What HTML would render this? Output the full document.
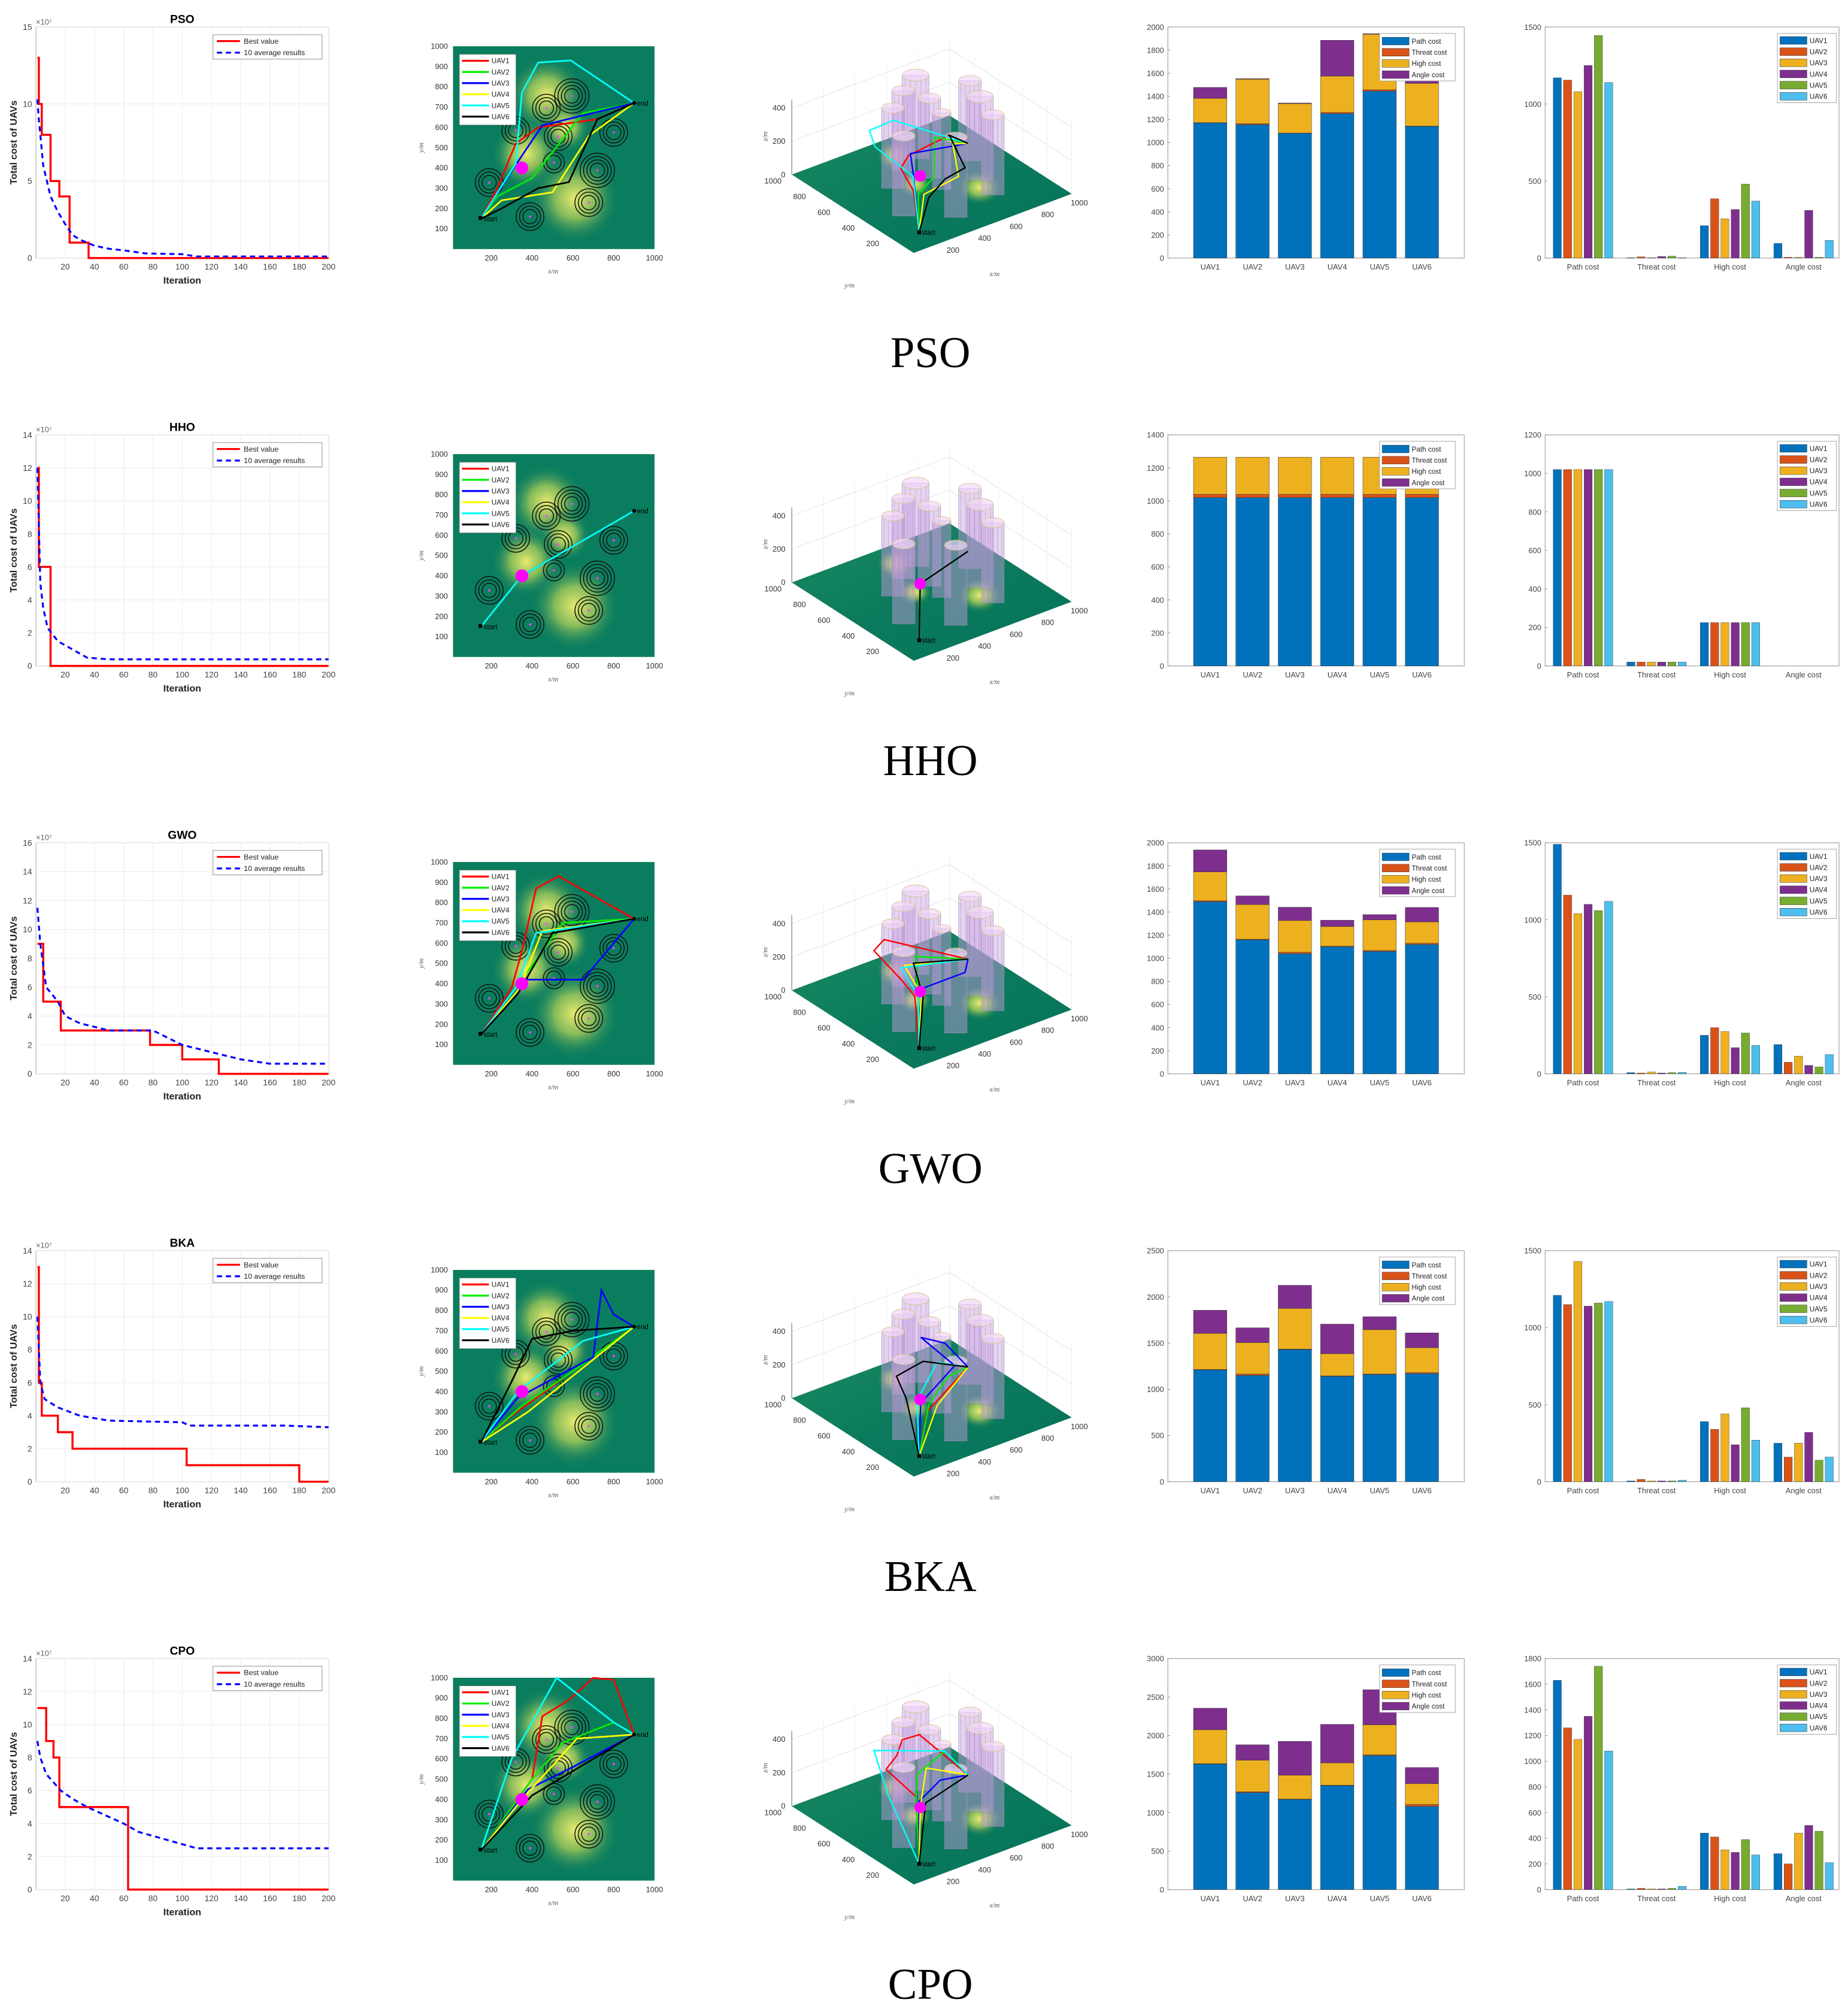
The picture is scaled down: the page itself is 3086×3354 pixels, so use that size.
<!DOCTYPE html>
<html><head><meta charset="utf-8"><title>UAV path planning comparison</title>
<style>
html,body{margin:0;padding:0;background:#fff;}
svg{display:block;}
</style></head>
<body>
<svg id="fig" xmlns="http://www.w3.org/2000/svg" width="3086" height="3354" viewBox="0 0 1440 1565">
<defs>
<radialGradient id="blob" cx="50%" cy="50%" r="50%">
<stop offset="0%" stop-color="#e8ec70"/><stop offset="45%" stop-color="#9cc65a" stop-opacity="0.85"/><stop offset="100%" stop-color="#0a7d5e" stop-opacity="0"/>
</radialGradient>
<linearGradient id="surf" x1="0" y1="0" x2="1" y2="1">
<stop offset="0%" stop-color="#1a8a62"/><stop offset="50%" stop-color="#0b7a5c"/><stop offset="100%" stop-color="#06735a"/>
</linearGradient>
</defs>
</svg>
<script>
// ---------- data ----------
const algos = ['PSO','HHO','GWO','BKA','CPO'];
const convYMax = [15,14,16,14,14];
const convYStep = [5,2,2,2,2];
const bestIters = [[1,2,4,10,16,23,36,200],[1,2,10,200],[1,5,17,78,100,125,200],[1,2,4,15,25,103,180,200],[1,7,12,16,63,200]];
const bestVals  = [[13,10,8,5,4,1,0,0],[12,6,0,0],[9,5,3,2,1,0,0],[13,6,4,3,2,1,0,0],[11,9,8,5,0,0]];
const avgIters = [[1,2,3,5,10,15,20,25,30,40,50,60,75,100,110,200],[1,3,5,8,15,25,35,50,200],[1,3,7,15,20,30,50,80,100,120,140,160,200],[1,3,6,15,30,50,100,105,170,200],[1,3,7,17,25,35,60,70,90,110,200]];
const avgVals  = [[10.3,9,8,6,4,3,2.2,1.5,1.2,0.8,0.6,0.5,0.3,0.25,0.1,0.1],[12,5,3.5,2.3,1.5,1,0.5,0.4,0.4],[11.5,9,6,5,4,3.5,3,3,2,1.5,1,0.7,0.7],[10,6,5,4.5,4,3.7,3.6,3.4,3.4,3.3],[9,8,7,6,5.5,5,4,3.5,3,2.5,2.5]];
const uavNames = ['UAV1','UAV2','UAV3','UAV4','UAV5','UAV6'];
const costNames = ['Path cost','Threat cost','High cost','Angle cost'];
const pathCost   = [[1170,1155,1080,1250,1445,1140],[1020,1020,1020,1020,1020,1020],[1490,1160,1040,1100,1060,1120],[1210,1150,1430,1140,1160,1170],[1630,1260,1170,1350,1740,1080]];
const threatCost = [[2,8,2,10,12,2],[20,20,20,20,20,20],[8,5,12,5,8,10],[5,15,5,5,5,10],[5,10,5,5,10,25]];
const highCost   = [[210,385,255,315,480,370],[225,225,225,225,225,225],[250,300,275,170,265,185],[390,340,440,240,480,270],[440,410,310,290,390,270]];
const angleCost  = [[95,5,5,310,5,115],[0,0,0,0,0,0],[190,75,115,55,45,125],[250,160,250,320,140,160],[280,200,440,500,455,210]];
const stackMax = [2000,1400,2000,2500,3000];
const stackStep = [200,200,200,500,500];
const groupMax = [1500,1200,1500,1500,1800];
const groupStep = [500,200,500,500,200];
const threatX = [595,470,320,528,800,507,720,190,678,390];
const threatY = [755,695,585,555,575,427,388,328,229,160];
const threatRings = [4,3,3,3,3,2,4,3,3,3];
const uavPaths = [
 [[[150,150],[230,300],[320,520],[430,600],[720,640],[900,720]],[[150,150],[230,260],[400,350],[650,670],[900,720]],[[150,150],[330,430],[450,610],[900,720]],[[150,150],[250,240],[500,280],[680,560],[900,720]],[[150,150],[320,420],[350,770],[430,920],[590,930],[900,720]],[[150,150],[250,200],[430,300],[580,330],[720,640],[900,720]]],
 [[[150,150],[350,400],[900,720]],[[150,150],[350,400],[900,720]],[[150,150],[350,400],[900,720]],[[150,150],[350,400],[900,720]],[[150,150],[350,400],[900,720]],[[150,150],[350,400],[900,720]]],
 [[[150,150],[300,380],[350,560],[420,870],[530,930],[900,720]],[[150,150],[350,420],[550,700],[900,720]],[[150,150],[370,420],[650,420],[900,720]],[[150,150],[340,380],[450,660],[900,720]],[[150,150],[320,380],[420,650],[900,720]],[[150,150],[330,350],[500,650],[900,720]]],
 [[[150,150],[300,280],[900,720]],[[150,150],[350,330],[600,500],[900,720]],[[150,150],[330,370],[700,570],[740,900],[800,780],[900,720]],[[150,150],[380,300],[900,720]],[[150,150],[330,400],[650,650],[900,720]],[[150,150],[300,450],[400,660],[600,700],[900,720]]],
 [[[150,150],[400,500],[450,810],[580,890],[700,1000],[800,990],[900,720]],[[150,150],[400,500],[550,680],[800,780],[900,720]],[[150,150],[380,450],[600,560],[900,720]],[[150,150],[350,400],[620,700],[900,720]],[[150,150],[300,600],[520,1000],[800,780],[900,720]],[[150,150],[400,420],[900,720]]]
];
const colStack = ['#0072BD','#D95319','#EDB120','#7E2F8E'];
const colUav = ['#0072BD','#D95319','#EDB120','#7E2F8E','#77AC30','#4DBEEE'];
const colPath = ['#ff0000','#00ee00','#0000ff','#ffff00','#00ffff','#000000'];

const NS='http://www.w3.org/2000/svg';
const svg=document.getElementById('fig');
const SANS='font-family:"Liberation Sans",Arial,sans-serif';
const SERIF='font-family:"Liberation Serif","Times New Roman",serif';
function mk(tag,attrs,parent,txt){const e=document.createElementNS(NS,tag);for(const k in attrs)e.setAttribute(k,attrs[k]);if(tag==='text'&&!attrs.style)e.setAttribute('style',SANS);if(txt!==undefined)e.textContent=txt;(parent||svg).appendChild(e);return e;}
const ROW=317.75;

algos.forEach((alg,r)=>{
 const oy=r*ROW;
 const row=mk('g',{});
 
 

 // ===== convergence =====
 const cg=mk('g',{},row);
 
 
 const L=28,R=256,T=21+oy,B=201+oy;
 const sx=v=>L+(v/200)*(R-L), sy=v=>B-(v/convYMax[r])*(B-T);
 mk('rect',{x:L,y:T,width:R-L,height:B-T,fill:'#fff',stroke:'#bbb','stroke-width':0.6},cg);
 for(let v=20;v<=200;v+=20){mk('line',{x1:sx(v),x2:sx(v),y1:T,y2:B,stroke:'#ececec','stroke-width':0.5},cg);
  const t=mk('text',{x:sx(v),y:B+9,'font-size':6.5,'text-anchor':'middle',fill:'#444'},cg,String(v));
  
  }
 for(let v=0;v<=convYMax[r];v+=convYStep[r]){mk('line',{x1:L,x2:R,y1:sy(v),y2:sy(v),stroke:'#ececec','stroke-width':0.5},cg);
  const t=mk('text',{x:L-3,y:sy(v)+2.3,'font-size':6.5,'text-anchor':'end',fill:'#444'},cg,String(v));
  
  }
 mk('text',{x:L,y:T-2,'font-size':6,fill:'#666'},cg,'×10⁷');
 const ttl=mk('text',{x:142,y:T-3,'font-size':9,'font-weight':'bold','text-anchor':'middle',fill:'#000'},cg,alg);
 
 
 const xl=mk('text',{x:142,y:B+20,'font-size':7.5,'font-weight':'bold','text-anchor':'middle',fill:'#222'},cg,'Iteration');
 
 
 const yl=mk('text',{x:13,y:(T+B)/2,'font-size':7.5,'font-weight':'bold','text-anchor':'middle',fill:'#222',transform:`rotate(-90 13 ${(T+B)/2})`},cg,'Total cost of UAVs');
 
 
 let d='';const bi=bestIters[r],bv=bestVals[r];
 for(let i=0;i<bi.length;i++){const x=sx(bi[i]);if(i===0)d+=`M${x},${sy(bv[i])}`;else d+=`L${x},${sy(bv[i-1])}L${x},${sy(bv[i])}`;}
 const bl=mk('path',{d:d,fill:'none',stroke:'#ff0000','stroke-width':1.6},cg);
 
 
 const ap=avgIters[r].map((it,i)=>`${sx(it)},${sy(avgVals[r][i])}`).join(' ');
 const al=mk('polyline',{points:ap,fill:'none',stroke:'#0000ff','stroke-width':1.5,'stroke-dasharray':'4,3'},cg);
 
 
 const lg=mk('g',{},cg);
 
 
 mk('rect',{x:166,y:T+6,width:85,height:19,fill:'#fff',stroke:'#999','stroke-width':0.5},lg);
 mk('line',{x1:169,x2:187,y1:T+11,y2:T+11,stroke:'#f00','stroke-width':1.5},lg);
 mk('line',{x1:169,x2:187,y1:T+20,y2:T+20,stroke:'#00f','stroke-width':1.5,'stroke-dasharray':'4,3'},lg);
 mk('text',{x:190,y:T+13,'font-size':5.8,fill:'#222'},lg,'Best value');
 mk('text',{x:190,y:T+22,'font-size':5.8,fill:'#222'},lg,'10 average results');

 // ===== 2D map =====
 const mg=mk('g',{},row);
 
 
 const mx=v=>351+v*0.159, my=v=>oy+194-v*0.158;
 mk('rect',{x:mx(0)+2,y:my(1000),width:mx(1000)-mx(0)-2,height:my(0)-my(1000),fill:'#0a7d5e'},mg);
 [[470,760,60],[370,470,55],[610,250,70],[560,600,40]].forEach(b=>{
  mk('ellipse',{cx:mx(b[0]),cy:my(b[1]),rx:b[2]*0.5,ry:b[2]*0.5,fill:'url(#blob)'},mg);});
 threatX.forEach((tx,i)=>{for(let k=1;k<=threatRings[i];k++)mk('circle',{cx:mx(tx),cy:my(threatY[i]),r:3+k*2.6,fill:'none',stroke:'#111','stroke-width':0.7},mg);
  mk('circle',{cx:mx(tx),cy:my(threatY[i]),r:0.9,fill:'#ff40ff'},mg);});
 uavPaths[r].forEach((p,u)=>{const pl=mk('polyline',{points:p.map(q=>mx(q[0])+','+my(q[1])).join(' '),fill:'none',stroke:colPath[u],'stroke-width':1.3},mg);
  
  });
 if(r===1){mk('polyline',{points:uavPaths[1][4].map(q=>mx(q[0])+','+my(q[1])).join(' '),fill:'none',stroke:'#00ffff','stroke-width':1.3},mg);}
 mk('circle',{cx:mx(350),cy:my(400),r:5,fill:'#ff00ff'},mg);
 mk('rect',{x:mx(150)-2,y:my(150)-2,width:3,height:3,fill:'#000'},mg);
 mk('text',{x:mx(150)+2,y:my(150)+2,'font-size':5.5,fill:'#000'},mg,'start');
 mk('circle',{cx:mx(900),cy:my(720),r:1.5,fill:'#000'},mg);
 mk('text',{x:mx(900)+2,y:my(720)+2,'font-size':5.5,fill:'#000'},mg,'end');
 for(let v=100;v<=1000;v+=100){mk('text',{x:mx(0)-2,y:my(v)+2,'font-size':6,'text-anchor':'end',fill:'#333'},mg,String(v));}
 for(let v=200;v<=1000;v+=200){mk('text',{x:mx(v),y:my(0)+9,'font-size':6,'text-anchor':'middle',fill:'#333'},mg,String(v));}
 mk('text',{x:431,y:my(0)+19,'font-size':5.5,'font-style':'italic','text-anchor':'middle',fill:'#555',style:SERIF},mg,'x/m');
 mk('text',{x:330,y:my(500),'font-size':5.5,'font-style':'italic','text-anchor':'middle',fill:'#555',style:SERIF,transform:`rotate(-90 330 ${my(500)})`},mg,'y/m');
 const ml=mk('g',{},mg);
 
 
 mk('rect',{x:358,y:my(960),width:44,height:55,fill:'#fff',stroke:'#888','stroke-width':0.4},ml);
 uavNames.forEach((n,u)=>{const yy=my(960)+5+u*8.7;mk('line',{x1:360,x2:381,y1:yy,y2:yy,stroke:colPath[u],'stroke-width':1.5},ml);
  mk('text',{x:383,y:yy+2,'font-size':5.5,fill:'#222'},ml,n);});

 // ===== 3D view =====
 const tg=mk('g',{},row);
 
 
 const F=[712,197+oy],Rr=[835,151+oy],Lc=[617,136+oy];
 const P=(x,y,z)=>[F[0]+x/1000*(Rr[0]-F[0])+y/1000*(Lc[0]-F[0]), F[1]+x/1000*(Rr[1]-F[1])+y/1000*(Lc[1]-F[1])-z*0.13];
 const zt=[0,200,400];
 zt.forEach(z=>{const a=P(0,1000,z),b=P(1000,1000,z),c=P(1000,0,z);
  mk('polyline',{points:`${a} ${b} ${c}`,fill:'none',stroke:'#e4e4e4','stroke-width':0.5},tg);});
 [0,200,400,600,800,1000].forEach(v=>{const a=P(v,1000,0),b=P(v,1000,450);mk('line',{x1:a[0],y1:a[1],x2:b[0],y2:b[1],stroke:'#ececec','stroke-width':0.4},tg);
  const c=P(1000,v,0),d2=P(1000,v,450);mk('line',{x1:c[0],y1:c[1],x2:d2[0],y2:d2[1],stroke:'#ececec','stroke-width':0.4},tg);});
 {const a=P(0,1000,0),b=P(0,1000,450);mk('line',{x1:a[0],y1:a[1],x2:b[0],y2:b[1],stroke:'#888','stroke-width':0.6},tg);}
 const c0=P(0,0,0),c1=P(1000,0,0),c2=P(1000,1000,0),c3=P(0,1000,0);
 mk('polygon',{points:`${c0} ${c1} ${c2} ${c3}`,fill:'url(#surf)'},tg);
 [[470,760,170],[370,470,150],[610,250,200]].forEach(m=>{const c=P(m[0],m[1],60);mk('ellipse',{cx:c[0],cy:c[1],rx:m[2]*0.09,ry:m[2]*0.07,fill:'url(#blob)'},tg);});
 threatX.forEach((tx,i)=>{const base=P(tx,threatY[i],0),top=P(tx,threatY[i],420+threatRings[i]*20);const rw=4+threatRings[i]*1.6;
  mk('rect',{x:base[0]-rw,y:top[1],width:2*rw,height:base[1]-top[1],fill:'#c8a0e0','fill-opacity':0.45,stroke:'#9a88b8','stroke-width':0.3},tg);
  for(let k=-2;k<=2;k++)mk('line',{x1:base[0]+k*rw/2.5,x2:base[0]+k*rw/2.5,y1:top[1],y2:base[1],stroke:'#8a7ab0','stroke-width':0.25,'stroke-opacity':0.7},tg);
  mk('ellipse',{cx:top[0],cy:top[1],rx:rw,ry:rw*0.45,fill:'#f2d8f8','fill-opacity':0.7,stroke:'#d8c080','stroke-width':0.4},tg);});
 uavPaths[r].forEach((p,u)=>{const pts=p.map((q,i)=>{const z=(i===0||i===p.length-1)?0:150;return P(q[0],q[1],z).join(',');}).join(' ');
  const pl=mk('polyline',{points:pts,fill:'none',stroke:colPath[u],'stroke-width':1.1},tg);
  
  });
 {const m=P(350,400,150);mk('circle',{cx:m[0],cy:m[1],r:4.5,fill:'#ff00ff'},tg);
  const s=P(150,150,0);mk('rect',{x:s[0]-1.5,y:s[1]-1.5,width:3,height:3,fill:'#000'},tg);mk('text',{x:s[0]+2,y:s[1]+2,'font-size':5.5,fill:'#000'},tg,'start');}
 zt.forEach(z=>{const a=P(0,1000,z);mk('text',{x:a[0]-5,y:a[1]+2,'font-size':6,'text-anchor':'end',fill:'#333'},tg,String(z));});
 [200,400,600,800,1000].forEach(v=>{const a=P(v,0,0);mk('text',{x:a[0]+6,y:a[1]+9,'font-size':6,'text-anchor':'middle',fill:'#333'},tg,String(v));
  const b=P(0,v,0);mk('text',{x:b[0]-8,y:b[1]+7,'font-size':6,'text-anchor':'end',fill:'#333'},tg,String(v));});
 mk('text',{x:771,y:215+oy,'font-size':5.5,'font-style':'italic',fill:'#555',style:SERIF},tg,'x/m');
 mk('text',{x:658,y:224+oy,'font-size':5.5,'font-style':'italic',fill:'#555',style:SERIF},tg,'y/m');
 mk('text',{x:598,y:110+oy,'font-size':5.5,'font-style':'italic',fill:'#555',style:SERIF,transform:`rotate(-90 598 ${110+oy})`},tg,'z/m');

 // ===== stacked bar =====
 const sg=mk('g',{},row);
 
 
 const SL=910,SR=1141,ST=21+oy,SB=201+oy;
 const ssy=v=>SB-v/stackMax[r]*(SB-ST);
 const ssx=i=>SL+(i+1)/7*(SR-SL);
 mk('rect',{x:SL,y:ST,width:SR-SL,height:SB-ST,fill:'#fff',stroke:'#aaa','stroke-width':0.6},sg);
 for(let v=0;v<=stackMax[r];v+=stackStep[r]){mk('text',{x:SL-3,y:ssy(v)+2.2,'font-size':6,'text-anchor':'end',fill:'#444'},sg,String(v));
  mk('line',{x1:SL,x2:SL+2,y1:ssy(v),y2:ssy(v),stroke:'#888','stroke-width':0.4},sg);}
 const costs=[pathCost[r],threatCost[r],highCost[r],angleCost[r]];
 uavNames.forEach((n,i)=>{let acc=0;const bw=26;
  costs.forEach((c,k)=>{const v=c[i];const rc=mk('rect',{x:ssx(i)-bw/2,y:ssy(acc+v),width:bw,height:ssy(acc)-ssy(acc+v),fill:colStack[k],stroke:'#333','stroke-width':0.25},sg);
   
   acc+=v;});
  mk('text',{x:ssx(i),y:SB+9,'font-size':6,'text-anchor':'middle',fill:'#444'},sg,n);});
 const sl=mk('g',{},sg);
 
 
 mk('rect',{x:1075,y:ST+5,width:59,height:37,fill:'#fff',stroke:'#999','stroke-width':0.4},sl);
 costNames.forEach((n,k)=>{const yy=ST+8+k*8.7;mk('rect',{x:1077,y:yy,width:21,height:6,fill:colStack[k],stroke:'#333','stroke-width':0.25},sl);
  mk('text',{x:1100,y:yy+5,'font-size':5.5,fill:'#222'},sl,n);});

 // ===== grouped bar =====
 const gg=mk('g',{},row);
 
 
 const GL=1204,GR=1433,GT=21+oy,GB=201+oy;
 const gsy=v=>GB-v/groupMax[r]*(GB-GT);
 const gsx=k=>1233.5+k*57.3;
 mk('rect',{x:GL,y:GT,width:GR-GL,height:GB-GT,fill:'#fff',stroke:'#aaa','stroke-width':0.6},gg);
 for(let v=0;v<=groupMax[r];v+=groupStep[r]){mk('text',{x:GL-3,y:gsy(v)+2.2,'font-size':6,'text-anchor':'end',fill:'#444'},gg,String(v));
  mk('line',{x1:GL,x2:GL+2,y1:gsy(v),y2:gsy(v),stroke:'#888','stroke-width':0.4},gg);}
 costs.forEach((c,k)=>{c.forEach((v,i)=>{const bw=6.4;const x=gsx(k)+(i-2.5)*8-bw/2;
   const rc=mk('rect',{x:x,y:gsy(v),width:bw,height:GB-gsy(v),fill:colUav[i],stroke:'#333','stroke-width':0.2},gg);
   
   });
  mk('text',{x:gsx(k),y:GB+9,'font-size':6,'text-anchor':'middle',fill:'#444'},gg,costNames[k]);});
 const gl=mk('g',{},gg);
 
 
 mk('rect',{x:1385,y:GT+5,width:46,height:54,fill:'#fff',stroke:'#999','stroke-width':0.4},gl);
 uavNames.forEach((n,i)=>{const yy=GT+7.5+i*8.7;mk('rect',{x:1387,y:yy,width:21,height:6,fill:colUav[i],stroke:'#333','stroke-width':0.25},gl);
  mk('text',{x:1410,y:yy+5,'font-size':5.5,fill:'#222'},gl,n);});

 // ===== algorithm caption =====
 const cap=mk('text',{x:725,y:286+oy,'font-size':34,'text-anchor':'middle',fill:'#000',style:SERIF},row,alg);
 
 
});
</script>
</body></html>
